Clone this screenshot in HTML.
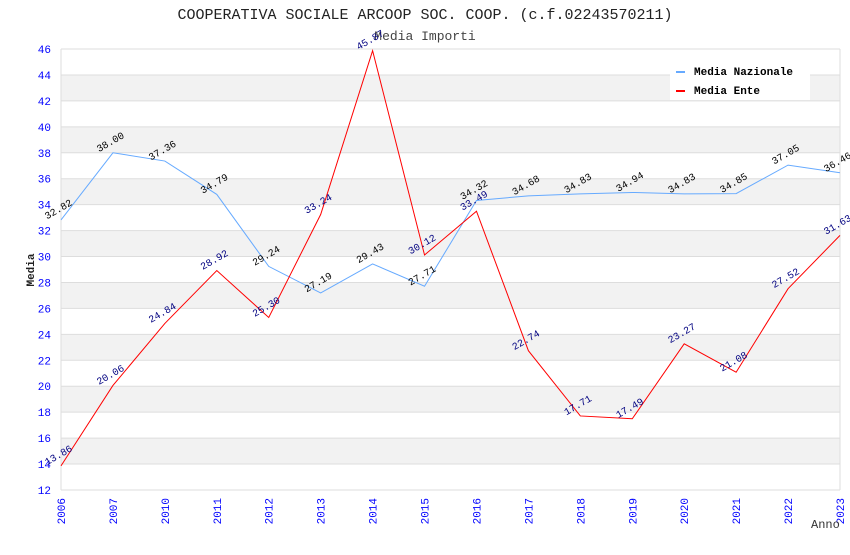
<!DOCTYPE html>
<html><head><meta charset="utf-8"><style>
body{margin:0;background:#fff;}
svg text{font-family:"Liberation Mono","DejaVu Sans Mono",monospace;}
</style></head><body>
<svg id="c" width="850" height="550" xmlns="http://www.w3.org/2000/svg">
<text x="425" y="19" text-anchor="middle" font-size="15" fill="#222">COOPERATIVA SOCIALE ARCOOP SOC. COOP. (c.f.02243570211)</text>
<text x="425" y="40" text-anchor="middle" font-size="13" fill="#444">Media Importi</text>
<g id="grid"></g>
<g id="axes"></g>
<g id="series"></g>
<text x="34" y="270" text-anchor="middle" font-size="11" font-weight="bold" fill="#222" transform="rotate(-90 34 270)">Media</text>
<text x="811" y="528" font-size="12" fill="#333">Anno</text>
<g>
<rect x="670" y="58" width="140" height="42" fill="#fff"/>
<rect x="676" y="71" width="9" height="2" fill="#66aaff"/>
<text x="694" y="75" font-size="11" font-weight="bold" fill="#000">Media Nazionale</text>
<rect x="676" y="90" width="9" height="2" fill="#ff0000"/>
<text x="694" y="94" font-size="11" font-weight="bold" fill="#000">Media Ente</text>
</g>
</svg>
<script>
const categories=["2006","2007","2010","2011","2012","2013","2014","2015","2016","2017","2018","2019","2020","2021","2022","2023"];
const nazionale=[32.82,38.00,37.36,34.79,29.24,27.19,29.43,27.71,34.32,34.68,34.83,34.94,34.83,34.85,37.05,36.46];
const ente=[13.86,20.06,24.84,28.92,25.30,33.24,45.87,30.12,33.49,22.74,17.71,17.49,23.27,21.08,27.52,31.63];
const yTicks=[12,14,16,18,20,22,24,26,28,30,32,34,36,38,40,42,44,46];
const NS="http://www.w3.org/2000/svg";
const L=61,R=840,T=49,B=490,yMin=12,yMax=46;
const x=i=>L+(R-L)*i/(categories.length-1);
const y=v=>B-(B-T)*(v-yMin)/(yMax-yMin);
function mk(tag,attrs,parent){const e=document.createElementNS(NS,tag);for(const k in attrs)e.setAttribute(k,attrs[k]);parent.appendChild(e);return e;}
const grid=document.getElementById('grid'),axes=document.getElementById('axes'),ser=document.getElementById('series');
for(let i=0;i<yTicks.length-1;i++){
  const v=yTicks[i];
  if(i%2===1){const r=mk('rect',{x:L,y:y(yTicks[i+1]),width:R-L,height:y(v)-y(yTicks[i+1]),fill:'#f2f2f2'},grid);
  
  }
}
yTicks.forEach(v=>{
  const l=mk('line',{x1:L,x2:R,y1:y(v),y2:y(v),stroke:'#ddd'},grid);
  
  
  const t=mk('text',{x:L-10,y:y(v)+4,'text-anchor':'end','font-size':11,fill:'#0000ff'},axes);
  t.textContent=v;
  
  
});
mk('line',{x1:L,x2:L,y1:T,y2:B,stroke:'#ddd'},grid);
mk('line',{x1:R,x2:R,y1:T,y2:B,stroke:'#ddd'},grid);
categories.forEach((c,i)=>{
  const t=mk('text',{x:0,y:0,'text-anchor':'end','font-size':11,fill:'#0000ff',transform:`translate(${x(i)+4},${B+8}) rotate(-90)`},axes);
  t.textContent=c;
  
  
});
function draw(data,color,lab,name){
  const p=mk('polyline',{points:data.map((v,i)=>x(i)+','+y(v)).join(' '),fill:'none',stroke:color,'stroke-width':1},ser);
  
  
  data.forEach((v,i)=>{
    const t=mk('text',{x:0,y:0,'text-anchor':'middle','font-size':10,fill:lab,transform:`translate(${x(i)-1},${y(v)-8}) rotate(-30)`},ser);
    t.textContent=v.toFixed(2);
    
    
  });
}
draw(nazionale,'#66aaff','#000','nazionale');
draw(ente,'#ff0000','#000080','ente');
</script>
</body></html>
